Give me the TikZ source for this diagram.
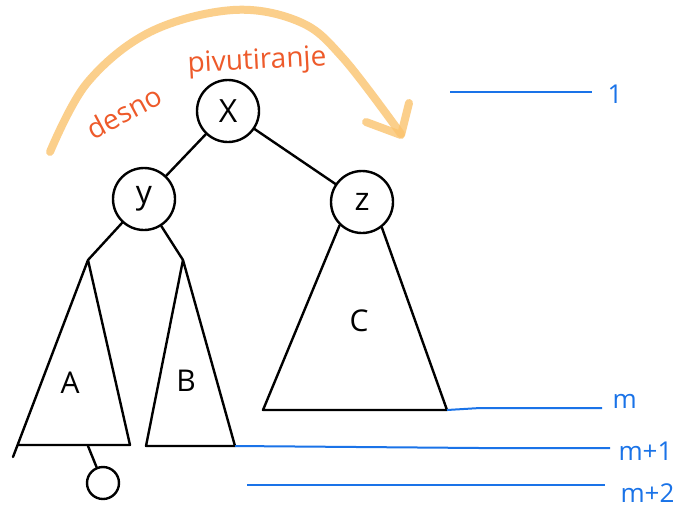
\documentclass[tikz,border=0pt]{standalone}
\usepackage{fontspec}
\setmainfont{Open Sans}
\definecolor{hand}{HTML}{EE5A2A}
\definecolor{arc}{HTML}{FBC36E}
\definecolor{lvl}{HTML}{1A73E8}
\begin{document}
\begin{tikzpicture}[x=1pt,y=-1pt,
  ink/.style={draw=black,line width=2.4pt,line cap=round,line join=round},
  knot/.style={circle,draw=black,line width=2.4pt,inner sep=0pt,minimum size=62pt,font=\fontsize{32}{32}\selectfont},
  leafknot/.style={circle,draw=black,line width=2.4pt,inner sep=0pt,minimum size=32pt},
  tlabel/.style={font=\fontsize{30}{30}\selectfont},
  level/.style={draw=lvl,line width=2pt},
  lvllabel/.style={text=lvl,font=\fontsize{26}{26}\selectfont,anchor=west},
  handtext/.style={text=hand,font=\fontsize{28}{28}\selectfont}]
\useasboundingbox (0,0) rectangle (695,515);
\fill[white] (0,0) rectangle (695,515);

% rotation arc
\draw[arc,opacity=0.8,line width=8pt,line cap=round,line join=round]
  plot[smooth,tension=0.6] coordinates {(50,152) (87,83) (150,32) (233,10) (300,22) (343,58) (401,134)};
\draw[arc,opacity=0.8,line width=8pt,line cap=round,line join=round]
  (366,122) -- (401,135) -- (409,103);
\node[handtext,rotate=28] (desno) at (124,112) {desno};
\node[handtext,rotate=3] (piv) at (257,62) {pivutiranje};

% nodes
\node[knot] (X) at (228,111) {X};
\node[knot] (y) at (144,199) {y};
\node[knot] (z) at (362,202) {z};
\node[leafknot] (leaf) at (103,483) {};

% triangle corners
\coordinate (Aapex) at (88,260);
\coordinate (Abl) at (18,445);
\coordinate (Abr) at (130,445);
\coordinate (Aend) at (13,457);
\coordinate (Amid) at (88,446);
\coordinate (Bapex) at (183,260);
\coordinate (Bbl) at (146,446);
\coordinate (Bbr) at (235,446);
\coordinate (Cbl) at (263,410);
\coordinate (Cbr) at (447,410);

% edges
\draw[ink] (X) -- (y);
\draw[ink] (X) -- (z);
\draw[ink] (y) -- (Aapex);
\draw[ink] (y) -- (Bapex);
\draw[ink] (Amid) -- (leaf);

% subtrees
\draw[ink] (Aend) -- (Aapex) -- (Abr) -- (Abl);
\draw[ink] (Bbl) -- (Bapex) -- (Bbr) -- cycle;
\draw[ink] (z.226) -- (Cbl) -- (Cbr) -- (z.-52);
\node[tlabel] (A) at (70,383) {A};
\node[tlabel] (B) at (186,381) {B};
\node[tlabel] (C) at (359,321) {C};

% levels
\coordinate (L1a) at (450,92);
\coordinate (L1b) at (592,92);
\draw[level] (L1a) -- (L1b);
\node[lvllabel] (l1) at (604,94) {1};
\coordinate (Lmb) at (480,408);
\coordinate (Lmc) at (602,408);
\draw[level] (Cbr) -- (Lmb) -- (Lmc);
\node[lvllabel] (lm) at (609,401) {m};
\coordinate (Lm1b) at (480,448);
\coordinate (Lm1c) at (610,448);
\draw[level] (Bbr) -- (Lm1b) -- (Lm1c);
\node[lvllabel] (lm1) at (615,451) {m+1};
\coordinate (Lm2a) at (247,485);
\coordinate (Lm2b) at (605,485);
\draw[level] (Lm2a) -- (Lm2b);
\node[lvllabel] (lm2) at (617,493) {m+2};
\end{tikzpicture}
\end{document}
